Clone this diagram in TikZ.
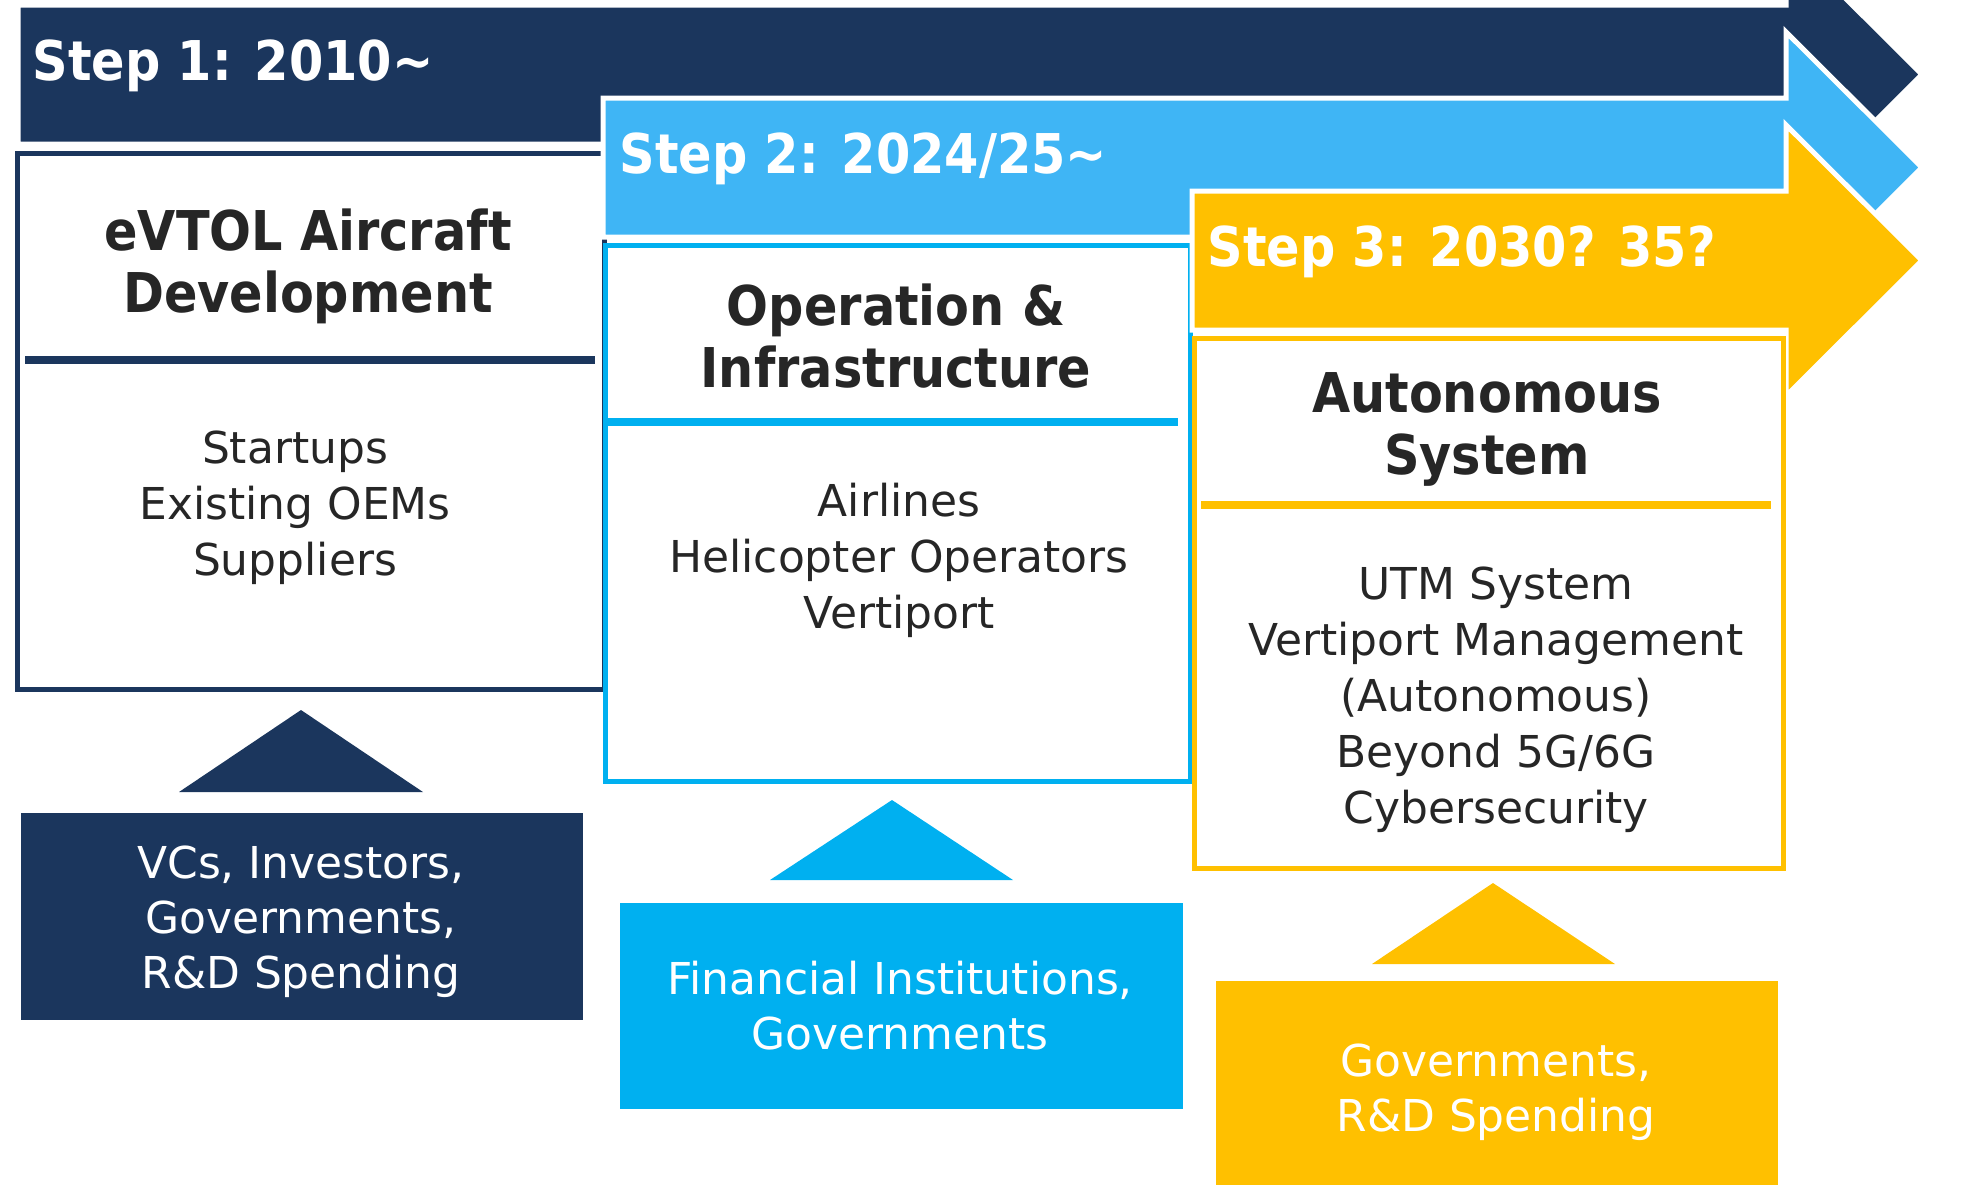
\documentclass[tikz,border=0pt]{standalone}
\usepackage{fontspec}
\setmainfont{DejaVu Sans}[BoldFeatures={FakeStretch=0.9}]
\usetikzlibrary{positioning}

\definecolor{navy}{HTML}{1B365D}
\definecolor{skyarrow}{HTML}{3FB5F5}
\definecolor{sky}{HTML}{00B0F0}
\definecolor{amber}{HTML}{FFC000}
\definecolor{ink}{HTML}{262626}

\tikzset{
  timearrow/.style={fill=#1, draw=white, line width=0.5mm, line join=miter},
  stagebox/.style={draw=#1, line width=0.5mm, fill=white, inner sep=0pt,
    anchor=north west},
  fundbox/.style={fill=#1, inner sep=0pt, anchor=north west},
  divider/.style={draw=#1, line width=0.8mm},
  steplabel/.style={text=white, anchor=base west, inner sep=0pt,
    font=\bfseries\fontsize{15.6}{18}\selectfont},
  % multi-line texts sit on the baseline of their last line
  boxtitle/.style={text=ink, align=center, anchor=base, inner sep=0pt,
    font=\bfseries\fontsize{15.6}{17.6}\selectfont},
  boxbody/.style={text=ink, align=center, anchor=base, inner sep=0pt,
    font=\fontsize{12.5}{15.9}\selectfont},
  fundtext/.style={boxbody, text=white, font=\fontsize{12.5}{15.6}\selectfont}
}

\begin{document}
\begin{tikzpicture}[x=0.1mm, y=-0.1mm]
  \useasboundingbox (0,0) rectangle (1986,1184);
  \clip (0,0) rectangle (1986,1184);

  % each step: arrow first, then its box on top
  \foreach \n/\x/\t/\c/\bx/\by/\bw/\bh/\bc in {
      1/18/5/navy/15/151/58.7/53.6/navy,
      2/603/98/skyarrow/603/243/58.5/53.6/sky,
      3/1192/191/amber/1192/336/58.9/53.0/amber}
  {
    \draw[timearrow=\c] (\x,\t) -- (1786,\t) -- (1786,\t-66) -- (1922,\t+69.5)
      -- (1786,\t+205) -- (1786,\t+139) -- (\x,\t+139) -- cycle;
    \node[stagebox=\bc, minimum width=\bw mm, minimum height=\bh mm]
      (stage\n) at (\bx,\by) {};
  }

  \node[steplabel] (step1) at (32,80) {Step 1: 2010\textasciitilde};
  \node[steplabel] (step2) at (619,173) {Step 2: 2024/25\textasciitilde};
  \node[steplabel] (step3) at (1207,266) {Step 3: 2030? 35?};

  % titles and rules
  \node[boxtitle] (title1) at (308,312) {eVTOL Aircraft\\Development};
  \node[boxtitle] (title2) at (896,387) {Operation \&\\Infrastructure};
  \node[boxtitle] (title3) at (1487,474) {Autonomous\\System};
  \draw[divider=navy] (25,360) -- (595,360);
  \draw[divider=sky] (608,422) -- (1178,422);
  \draw[divider=amber] (1201,505) -- (1771,505);

  % who is involved
  \node[boxbody] (body1) at (295,575) {Startups\\Existing OEMs\\Suppliers};
  \node[boxbody] (body2) at (899,628) {Airlines\\Helicopter Operators\\Vertiport};
  \node[boxbody] (body3) at (1496,823)
    {UTM System\\Vertiport Management\\(Autonomous)\\Beyond 5G/6G\\Cybersecurity};

  % funding sources
  \node[fundbox=navy, minimum width=56.2mm, minimum height=20.7mm]
    (fund1) at (20,812) {};
  \node[fundbox=sky, minimum width=56.3mm, minimum height=20.6mm]
    (fund2) at (619,902) {};
  \node[fundbox=amber, minimum width=56.2mm, minimum height=21mm]
    (fund3) at (1215,980) {};
  \node[fundtext] (money1) at (301,988) {VCs, Investors,\\Governments,\\R\&D Spending};
  \node[fundtext] (money2) at (900,1049) {Financial Institutions,\\Governments};
  \node[fundtext] (money3) at (1496,1131) {Governments,\\R\&D Spending};

  % pointers up to the boxes
  \fill[navy] (179,792) -- (301,710) -- (423,792) -- cycle;
  \fill[sky] (770,880) -- (892,800) -- (1013,880) -- cycle;
  \fill[amber] (1372,964) -- (1493,883) -- (1615,964) -- cycle;
\end{tikzpicture}
\end{document}
